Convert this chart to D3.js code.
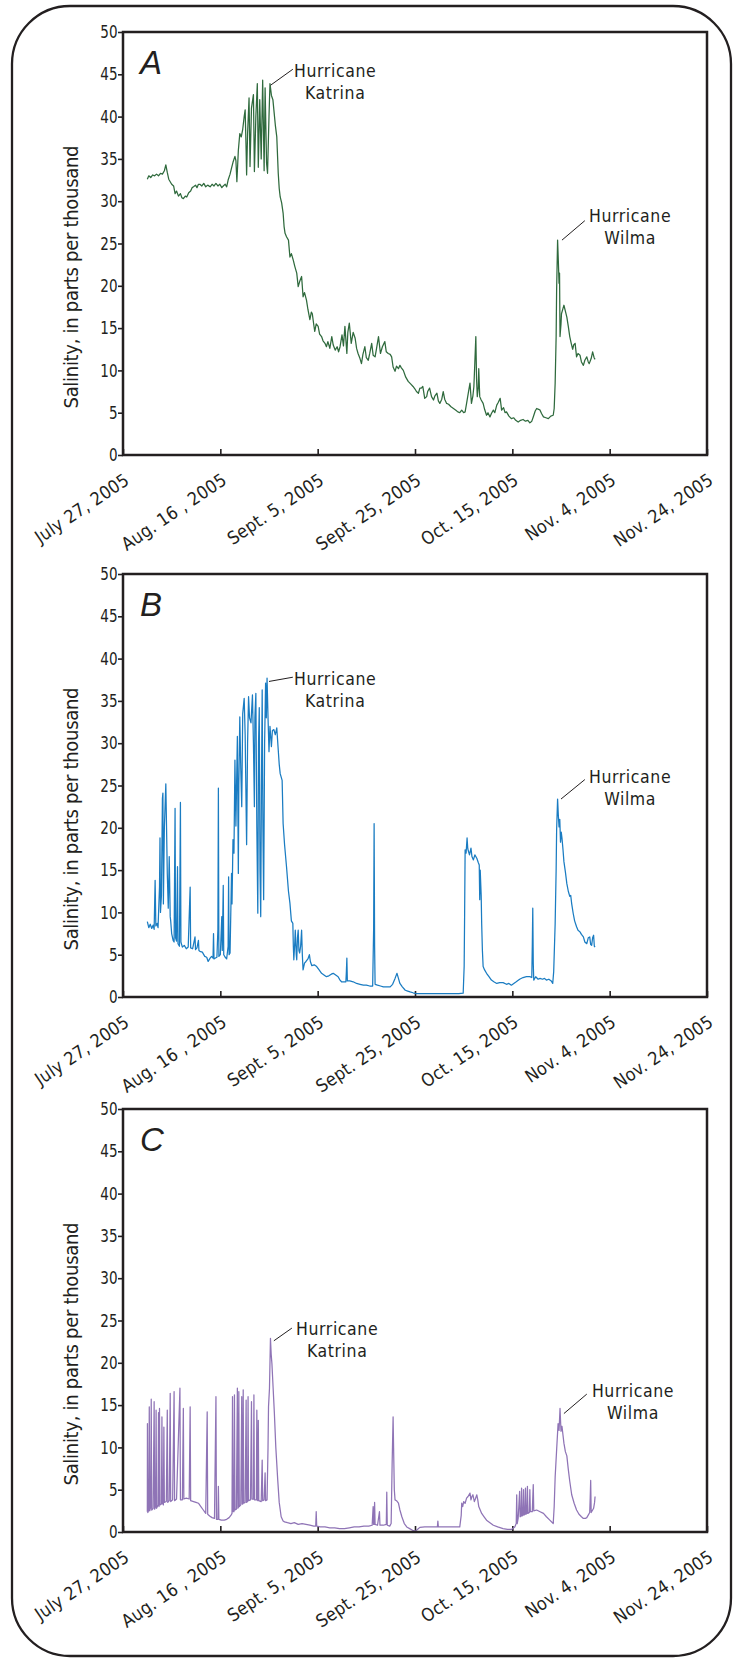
<!DOCTYPE html>
<html>
<head>
<meta charset="utf-8">
<script src="https://cdn.jsdelivr.net/npm/d3@7"></script>
<style>
  html, body { margin: 0; padding: 0; background: #ffffff; }
  svg { display: block; }
  .narrow { font-family: 'Liberation Sans Narrow', 'DejaVu Sans Condensed', 'Arial Narrow', sans-serif; }
</style>
</head>
<body>
<svg id="chart" width="736" height="1659"></svg>
<script>
// ---------------- DATA ----------------
// day offsets from July 27, 2005 and salinity (ppt)
const startDate = "2005-07-27";
const tickDates = ["2005-07-27","2005-08-16","2005-09-05","2005-09-25","2005-10-15","2005-11-04","2005-11-24"];
const tickLabels = ["July 27, 2005","Aug. 16 , 2005","Sept. 5, 2005","Sept. 25, 2005","Oct. 15, 2005","Nov. 4, 2005","Nov. 24, 2005"];
const yTicks = [0,5,10,15,20,25,30,35,40,45,50];
const panelLetters = ["A","B","C"];
const yTitle = "Salinity, in parts per thousand";

const seriesA = [[5.0,32.6],[5.3,33.0],[5.7,32.8],[6.1,33.1],[6.5,33.0],[6.9,33.2],[7.3,33.0],[7.7,33.3],[8.1,33.2],[8.5,33.6],[8.8,34.3],[9.1,33.4],[9.4,32.6],[9.7,32.3],[10.0,32.0],[10.4,31.8],[10.7,30.9],[11.0,31.2],[11.4,30.6],[11.8,30.9],[12.1,30.4],[12.4,30.3],[12.8,30.6],[13.1,30.5],[13.5,31.0],[13.9,31.2],[14.2,31.6],[14.5,31.7],[14.9,31.9],[15.2,31.6],[15.5,32.0],[15.8,32.0],[16.2,31.8],[16.6,32.1],[17.0,31.7],[17.4,31.9],[17.9,31.7],[18.3,32.0],[18.7,31.8],[19.1,32.1],[19.5,31.8],[19.9,32.0],[20.3,31.6],[20.6,31.8],[21.0,32.0],[21.3,31.7],[21.6,32.5],[22.0,33.2],[22.3,33.9],[22.6,34.6],[23.0,35.3],[23.2,34.8],[23.4,32.3],[23.7,36.0],[24.0,38.0],[24.3,37.6],[24.6,38.5],[24.9,40.0],[25.1,40.8],[25.3,36.0],[25.4,33.1],[25.6,38.0],[25.9,42.2],[26.1,34.1],[26.4,41.0],[26.8,42.6],[27.0,33.5],[27.3,40.0],[27.6,43.9],[27.8,34.0],[28.1,42.0],[28.4,35.0],[28.7,44.3],[29.0,33.6],[29.2,43.4],[29.5,34.5],[29.7,33.3],[30.0,40.0],[30.2,43.9],[30.5,42.5],[30.8,42.0],[31.0,40.8],[31.3,39.0],[31.6,37.6],[31.9,33.3],[32.1,31.5],[32.3,30.5],[32.6,29.8],[32.9,28.6],[33.1,27.0],[33.3,26.2],[33.6,25.8],[34.0,25.4],[34.3,23.4],[34.6,23.8],[35.0,23.0],[35.3,22.3],[35.7,21.5],[36.0,19.9],[36.3,20.5],[36.7,21.1],[37.0,18.7],[37.3,19.2],[37.7,18.3],[38.0,17.2],[38.4,16.0],[38.7,16.9],[38.9,16.7],[39.2,15.4],[39.4,14.6],[39.7,15.5],[40.1,15.2],[40.4,14.3],[40.8,14.0],[41.1,13.5],[41.5,13.2],[41.8,12.8],[42.1,13.4],[42.5,12.6],[42.9,14.0],[43.2,13.0],[43.6,12.4],[44.0,12.8],[44.3,12.2],[44.6,12.8],[45.0,14.2],[45.3,12.9],[45.6,15.2],[46.0,12.0],[46.2,14.5],[46.5,15.6],[46.9,13.2],[47.3,14.5],[47.7,13.8],[48.0,12.6],[48.3,12.0],[48.7,11.4],[49.0,10.8],[49.3,11.9],[49.7,12.8],[50.0,11.5],[50.4,11.2],[50.7,12.0],[51.1,13.2],[51.4,11.8],[51.8,11.6],[52.1,12.6],[52.5,14.0],[52.9,12.0],[53.3,12.8],[53.8,13.4],[54.1,12.2],[54.5,12.0],[54.9,11.9],[55.2,11.6],[55.5,10.4],[55.9,9.9],[56.2,10.5],[56.6,10.2],[56.9,10.6],[57.2,10.3],[57.6,10.0],[58.1,9.2],[58.6,8.7],[59.1,8.4],[59.6,8.1],[60.0,7.8],[60.3,7.5],[60.7,7.3],[61.0,7.9],[61.3,7.9],[61.6,8.1],[62.0,6.7],[62.4,6.9],[62.6,7.5],[63.0,7.9],[63.4,6.9],[63.8,6.5],[64.1,7.0],[64.5,7.3],[64.8,6.4],[65.1,6.1],[65.5,6.6],[65.8,7.5],[66.1,6.6],[66.5,6.1],[66.9,6.0],[67.4,5.7],[67.9,5.5],[68.4,5.3],[68.8,5.1],[69.2,5.0],[69.6,5.3],[70.0,5.0],[70.3,5.1],[70.6,6.1],[71.0,7.5],[71.3,8.5],[71.6,6.1],[71.9,7.0],[72.1,8.1],[72.3,11.0],[72.5,14.0],[72.65,9.0],[72.8,6.9],[73.0,8.0],[73.1,10.2],[73.3,6.9],[73.6,6.5],[74.0,6.1],[74.3,5.4],[74.7,4.7],[75.0,5.0],[75.4,4.5],[75.7,4.9],[76.1,5.3],[76.4,5.0],[76.8,5.9],[77.1,6.2],[77.5,6.7],[77.8,5.3],[78.2,5.6],[78.5,5.0],[78.8,5.1],[79.3,4.6],[79.8,4.3],[80.3,4.4],[80.7,4.1],[81.2,3.9],[81.7,4.1],[82.2,4.2],[82.7,4.0],[83.2,4.1],[83.6,3.8],[84.0,4.0],[84.3,4.5],[84.7,5.2],[85.0,5.5],[85.4,5.4],[85.7,5.3],[86.0,4.9],[86.4,4.5],[86.9,4.4],[87.4,4.3],[87.9,4.6],[88.4,4.7],[88.6,5.5],[88.8,8.5],[89.0,14.0],[89.1,19.5],[89.3,25.4],[89.45,23.0],[89.6,20.3],[89.7,21.5],[89.8,14.0],[90.0,15.5],[90.1,16.7],[90.4,17.3],[90.6,17.7],[90.9,17.0],[91.2,16.3],[91.5,15.2],[91.8,14.0],[92.1,13.2],[92.4,12.5],[92.6,13.0],[92.9,13.2],[93.2,11.6],[93.5,12.0],[93.9,11.8],[94.2,11.0],[94.6,10.6],[94.9,11.2],[95.3,11.6],[95.6,11.0],[95.8,10.8],[96.2,11.4],[96.5,12.2],[96.8,11.5],[97.0,11.3]];

const seriesB = [[5.0,8.9],[5.3,8.2],[5.6,8.6],[5.9,8.1],[6.2,8.5],[6.4,8.0],[6.6,13.8],[6.75,8.4],[7.0,8.7],[7.2,8.2],[7.5,13.0],[7.6,18.8],[7.7,10.0],[7.9,12.0],[8.1,23.5],[8.2,24.1],[8.3,11.0],[8.5,20.0],[8.8,25.2],[8.9,21.7],[9.1,14.6],[9.3,10.5],[9.5,16.6],[9.7,9.5],[9.8,9.0],[10.0,7.5],[10.3,6.7],[10.5,6.5],[10.7,22.3],[10.8,7.0],[11.0,6.6],[11.2,15.4],[11.3,6.3],[11.6,6.0],[11.8,23.0],[11.9,6.5],[12.2,5.9],[12.6,6.1],[13.0,5.7],[13.4,5.9],[13.8,13.0],[13.9,5.8],[14.3,5.7],[14.8,7.1],[14.9,5.6],[15.2,5.8],[15.5,6.7],[15.6,5.5],[15.8,5.4],[16.3,5.3],[16.8,4.8],[17.2,4.7],[17.5,4.2],[17.9,4.6],[18.2,4.8],[18.5,4.6],[18.6,7.5],[18.7,4.5],[19.0,4.6],[19.3,4.7],[19.5,8.0],[19.6,24.7],[19.7,4.8],[20.0,5.0],[20.3,9.5],[20.4,5.5],[20.6,13.2],[20.7,5.0],[21.0,4.7],[21.3,4.5],[21.6,6.0],[21.7,14.2],[21.8,5.0],[22.0,5.2],[22.3,14.6],[22.4,11.0],[22.6,18.6],[22.8,17.0],[23.0,28.0],[23.2,20.2],[23.5,30.8],[23.7,14.6],[23.8,25.0],[24.0,33.1],[24.2,27.0],[24.4,22.5],[24.6,33.5],[24.9,35.3],[25.1,31.0],[25.4,18.0],[25.6,30.0],[25.8,35.5],[26.0,33.0],[26.3,32.4],[26.6,35.7],[26.8,30.0],[27.0,22.5],[27.1,33.0],[27.3,35.9],[27.5,20.0],[27.7,9.9],[27.85,30.0],[28.0,34.2],[28.15,15.0],[28.3,9.5],[28.45,25.0],[28.6,36.3],[28.75,20.0],[28.9,11.5],[29.1,30.0],[29.3,37.1],[29.45,33.0],[29.6,37.7],[29.8,33.0],[30.0,29.0],[30.2,32.0],[30.5,29.6],[30.7,31.5],[31.0,31.6],[31.3,31.0],[31.6,31.8],[31.9,29.2],[32.1,27.5],[32.3,26.4],[32.7,25.6],[32.9,20.5],[33.2,18.0],[33.6,15.4],[34.0,12.5],[34.3,11.1],[34.6,9.0],[34.9,8.7],[35.0,6.0],[35.1,4.4],[35.3,6.5],[35.4,7.9],[35.6,5.0],[35.7,4.4],[35.85,7.0],[36.0,7.9],[36.15,5.5],[36.3,5.2],[36.5,6.0],[36.7,7.9],[36.85,5.0],[37.0,3.2],[37.3,4.0],[37.6,4.2],[38.0,4.5],[38.3,5.0],[38.5,4.2],[38.8,3.7],[39.3,3.8],[39.8,3.6],[40.3,3.2],[40.8,2.8],[41.3,2.6],[41.8,2.4],[42.3,2.5],[42.8,2.7],[43.2,2.8],[43.7,2.6],[44.2,2.4],[44.6,2.0],[44.9,1.8],[45.4,1.8],[45.8,1.8],[45.9,3.0],[46.0,4.6],[46.1,1.9],[46.6,1.9],[47.3,1.8],[48.0,1.6],[48.7,1.5],[49.4,1.4],[50.0,1.4],[50.7,1.3],[51.3,1.3],[51.5,8.0],[51.6,20.5],[51.7,6.0],[51.8,1.5],[52.3,1.4],[52.9,1.3],[53.5,1.2],[54.2,1.2],[54.9,1.2],[55.4,1.5],[55.9,2.2],[56.3,2.8],[56.6,2.2],[56.9,1.6],[57.4,1.2],[58.0,0.8],[58.5,0.7],[59.0,0.6],[59.6,0.5],[60.3,0.4],[61.0,0.4],[63.0,0.4],[65.0,0.4],[67.0,0.4],[69.0,0.4],[69.9,0.45],[70.0,2.0],[70.1,3.6],[70.2,10.0],[70.3,17.4],[70.5,17.0],[70.7,18.8],[70.85,17.5],[71.0,17.2],[71.2,16.8],[71.5,17.6],[71.7,16.6],[72.0,16.2],[72.3,16.8],[72.7,16.4],[73.0,15.9],[73.2,15.6],[73.3,11.5],[73.4,15.0],[73.6,12.0],[73.7,8.7],[73.85,5.5],[74.0,3.6],[74.3,3.2],[74.7,2.8],[75.2,2.4],[75.7,2.0],[76.2,1.8],[76.8,1.6],[77.4,1.7],[78.1,1.7],[78.8,1.5],[79.3,1.6],[79.8,1.4],[80.3,1.6],[80.8,1.8],[81.5,2.1],[82.2,2.3],[82.9,2.4],[83.6,2.4],[84.0,2.3],[84.1,6.0],[84.2,10.5],[84.3,4.0],[84.4,2.0],[84.8,2.4],[85.3,2.1],[85.7,2.2],[86.2,2.1],[86.6,2.2],[87.0,2.0],[87.5,2.1],[88.0,1.9],[88.3,1.6],[88.5,3.0],[88.8,8.7],[89.0,15.0],[89.1,19.7],[89.3,23.4],[89.45,21.5],[89.6,20.1],[89.75,21.0],[89.9,18.3],[90.05,19.5],[90.2,18.8],[90.4,17.5],[90.6,16.0],[90.9,14.8],[91.2,13.4],[91.5,12.5],[91.8,11.9],[92.0,12.0],[92.2,11.0],[92.5,9.9],[92.8,9.0],[93.2,8.3],[93.5,7.9],[93.9,7.7],[94.2,7.4],[94.6,7.1],[94.9,6.5],[95.3,6.3],[95.6,7.0],[95.9,7.1],[96.1,6.2],[96.3,6.1],[96.5,7.0],[96.7,7.3],[96.85,6.0],[97.0,5.9]];

const seriesC = [[5.0,2.4],[5.02,12.8],[5.1,2.3],[5.3,2.6],[5.4,14.8],[5.5,2.5],[5.7,3.0],[5.8,15.7],[5.9,2.6],[6.2,2.8],[6.4,15.4],[6.5,2.7],[6.7,3.0],[6.8,14.4],[6.9,2.8],[7.2,3.2],[7.3,14.1],[7.4,3.0],[7.5,14.6],[7.6,3.2],[7.9,3.3],[8.0,13.6],[8.1,3.4],[8.3,3.2],[8.4,12.4],[8.5,3.5],[8.9,3.6],[9.1,14.4],[9.2,3.5],[9.5,3.7],[9.7,16.4],[9.8,3.6],[10.2,3.8],[10.5,16.6],[10.6,3.7],[11.0,3.9],[11.7,17.0],[11.8,3.8],[12.2,3.8],[12.4,14.6],[12.5,3.9],[13.0,4.0],[13.6,3.9],[13.8,14.8],[13.9,3.7],[14.5,3.6],[15.0,3.5],[15.5,3.4],[16.0,3.0],[16.5,2.6],[17.0,2.2],[17.3,14.2],[17.4,2.1],[17.8,1.9],[18.3,1.7],[18.8,1.6],[19.1,16.0],[19.2,1.5],[19.5,1.5],[19.6,5.4],[19.7,1.5],[20.2,1.4],[20.8,1.4],[21.3,1.5],[21.8,1.7],[22.2,2.0],[22.4,2.2],[22.5,16.0],[22.6,2.4],[22.8,2.4],[22.9,16.2],[23.0,2.6],[23.3,2.7],[23.5,17.0],[23.6,2.8],[23.7,2.9],[23.8,16.6],[23.9,3.0],[24.2,3.2],[24.4,16.0],[24.5,3.3],[24.6,3.3],[24.7,16.8],[24.8,3.4],[25.1,3.5],[25.3,15.6],[25.4,3.5],[25.6,3.6],[25.7,16.0],[25.8,3.7],[26.2,3.8],[26.4,15.4],[26.5,3.9],[26.8,3.9],[26.9,16.2],[27.0,3.8],[27.4,3.8],[27.5,14.4],[27.6,3.8],[27.7,3.7],[27.8,13.2],[27.9,3.7],[28.4,3.6],[28.6,8.5],[28.7,3.7],[29.0,3.8],[29.2,7.0],[29.3,3.7],[29.6,3.8],[29.8,10.0],[29.9,14.8],[30.1,17.0],[30.3,22.9],[30.45,21.0],[30.6,19.9],[30.85,17.0],[31.1,14.1],[31.4,10.0],[31.8,6.1],[32.1,3.5],[32.5,1.8],[32.9,1.3],[33.2,1.2],[33.8,1.1],[34.5,1.0],[35.2,1.1],[36.0,0.9],[36.8,1.0],[37.6,0.9],[38.4,0.8],[39.2,0.7],[39.6,0.7],[39.7,2.4],[39.8,0.7],[40.5,0.6],[41.5,0.6],[42.5,0.5],[43.5,0.5],[44.5,0.4],[45.5,0.4],[46.5,0.5],[47.5,0.6],[48.5,0.6],[49.5,0.7],[50.5,0.7],[51.2,0.8],[51.4,3.0],[51.5,0.9],[51.6,0.9],[51.7,3.5],[51.8,0.9],[52.3,0.8],[52.7,2.4],[52.8,0.8],[53.5,0.8],[54.1,0.9],[54.2,4.7],[54.3,0.8],[54.8,0.7],[55.1,1.0],[55.3,8.0],[55.5,13.6],[55.6,10.0],[55.75,5.0],[55.9,3.8],[56.2,3.7],[56.6,3.4],[56.9,2.6],[57.3,1.8],[57.8,1.0],[58.3,0.6],[58.9,0.4],[59.5,0.2],[60.0,0.1],[60.5,0.3],[61.0,0.55],[62.0,0.6],[63.0,0.6],[64.0,0.6],[64.6,0.6],[64.7,1.3],[64.8,0.6],[65.5,0.6],[66.5,0.6],[67.5,0.6],[68.5,0.6],[69.2,0.6],[69.5,2.0],[69.6,3.4],[69.8,3.0],[70.0,3.6],[70.3,3.4],[70.6,4.0],[70.9,4.2],[71.3,4.6],[71.5,3.8],[71.7,4.2],[71.9,4.4],[72.2,3.6],[72.4,3.9],[72.7,4.4],[72.9,3.8],[73.1,3.0],[73.4,2.6],[73.7,2.2],[74.2,1.8],[74.7,1.4],[75.4,1.1],[76.1,0.8],[77.0,0.6],[78.1,0.4],[79.0,0.3],[79.8,0.3],[80.5,0.6],[80.8,1.0],[80.9,4.4],[81.0,1.0],[81.2,1.6],[81.5,4.8],[81.6,1.8],[81.8,1.9],[81.9,5.2],[82.0,1.9],[82.2,2.0],[82.3,5.0],[82.4,2.0],[82.6,2.1],[82.7,5.2],[82.8,2.1],[83.0,2.2],[83.1,5.4],[83.2,2.2],[83.5,2.3],[83.6,5.0],[83.7,2.4],[84.1,2.4],[84.3,5.6],[84.4,2.5],[85.0,2.6],[85.7,2.4],[86.4,2.2],[87.0,1.8],[87.7,1.4],[88.4,1.0],[88.6,3.0],[88.8,6.5],[89.1,9.7],[89.4,12.8],[89.6,12.0],[89.8,14.6],[90.0,11.9],[90.2,12.5],[90.4,11.5],[90.6,10.5],[90.9,9.5],[91.2,9.0],[91.5,7.4],[91.8,6.0],[92.2,4.4],[92.7,3.4],[93.2,2.6],[93.7,2.1],[94.2,1.8],[94.6,1.6],[95.0,1.6],[95.3,1.7],[95.6,2.0],[95.9,2.3],[96.0,4.0],[96.1,6.1],[96.2,2.3],[96.5,2.6],[96.7,2.8],[96.9,3.5],[97.0,4.2]];

const seriesList = [seriesA, seriesB, seriesC];
const seriesColors = ["#2f6a3d", "#1a7cc2", "#8f74b6"];

// annotation labels: [label day, label value (baseline of first line), leader start day, value, leader end day, value]
const annoText = [["Hurricane","Katrina"],["Hurricane","Wilma"]];
const annotations = [
  [[43.6,44.7,34.9,45.6,30.3,43.7],[104.2,27.5,94.9,27.7,90.2,25.4]],
  [[43.6,36.9,34.9,37.8,30.0,37.3],[104.2,25.3,94.9,25.7,90.0,23.4]],
  [[44.0,23.3,34.7,24.1,31.0,22.6],[104.8,16.0,95.3,16.3,90.6,14.0]]
];

// ---------------- LAYOUT ----------------
const ink = "#231f20";
const plotLeft = 123, plotWidth = 584, plotHeight = 423;
const panelTops = [32, 574, 1109];

const svg = d3.select("#chart");

svg.append("rect")
  .attr("x", 12).attr("y", 6).attr("width", 719).attr("height", 1650)
  .attr("rx", 58).attr("ry", 58)
  .attr("fill", "none").attr("stroke", ink).attr("stroke-width", 2.3);

const parse = d3.utcParse("%Y-%m-%d");
const t0 = parse(startDate);
const toDate = d => new Date(t0.getTime() + d * 864e5);

const x = d3.scaleUtc()
  .domain([parse(tickDates[0]), parse(tickDates[tickDates.length - 1])])
  .range([plotLeft, plotLeft + plotWidth]);

panelTops.forEach((top, i) => {
  const y = d3.scaleLinear().domain([0, 50]).range([top + plotHeight, top]);
  const g = svg.append("g");

  // y axis (outward ticks)
  const yAxis = d3.axisLeft(y).tickValues(yTicks).tickSize(5).tickPadding(1).tickFormat(d3.format("d"));
  const gy = g.append("g").attr("transform", `translate(${plotLeft},0)`).call(yAxis);
  gy.select(".domain").remove();
  gy.selectAll("line").attr("stroke", ink).attr("stroke-width", 1.6);
  gy.selectAll("text").attr("class", "narrow").attr("font-size", 17.5).attr("fill", ink)
    .attr("font-family", null).attr("x", 0)
    .attr("transform", "translate(-5.5,0) scale(0.86,1)");

  // x axis (inward ticks)
  const xAxis = d3.axisBottom(x).tickValues(tickDates.map(parse)).tickSize(-6)
    .tickFormat((d, k) => tickLabels[k]);
  const gx = g.append("g").attr("transform", `translate(0,${top + plotHeight})`).call(xAxis);
  gx.select(".domain").remove();
  gx.selectAll("line").attr("stroke", ink).attr("stroke-width", 1.6);
  gx.selectAll("text").attr("class", "narrow").attr("font-size", 18).attr("fill", ink)
    .attr("font-family", null).attr("letter-spacing", 0.2)
    .attr("y", null).attr("dy", null)
    .attr("text-anchor", "end")
    .attr("transform", "translate(7,28) rotate(-34)");

  // data line
  const line = d3.line().x(d => x(toDate(d[0]))).y(d => y(d[1]));
  g.append("path").datum(seriesList[i])
    .attr("d", line).attr("fill", "none")
    .attr("stroke", seriesColors[i]).attr("stroke-width", 1.25)
    .attr("stroke-linejoin", "round");

  // frame
  g.append("rect").attr("x", plotLeft).attr("y", top).attr("width", plotWidth).attr("height", plotHeight)
    .attr("fill", "none").attr("stroke", ink).attr("stroke-width", 2.5);

  // panel letter
  g.append("text").attr("x", plotLeft + 17).attr("y", top + 42)
    .attr("font-family", "'Liberation Sans', Arial, sans-serif").attr("font-style", "italic")
    .attr("font-size", 33).attr("fill", ink).text(panelLetters[i]);

  // y title
  g.append("text").attr("class", "narrow")
    .attr("transform", `translate(78,${top + 245}) rotate(-90)`)
    .attr("text-anchor", "middle").attr("font-size", 20).attr("fill", ink)
    .attr("textLength", 263).attr("lengthAdjust", "spacing")
    .text(yTitle);

  // annotations
  annotations[i].forEach((a, k) => {
    g.append("line")
      .attr("x1", x(toDate(a[2]))).attr("y1", y(a[3]))
      .attr("x2", x(toDate(a[4]))).attr("y2", y(a[5]))
      .attr("stroke", ink).attr("stroke-width", 1);
    const tx = g.append("text").attr("class", "narrow")
      .attr("text-anchor", "middle").attr("font-size", 17.5).attr("fill", ink)
      .attr("letter-spacing", 0.6);
    annoText[k].forEach((s, j) => {
      tx.append("tspan").attr("x", x(toDate(a[0]))).attr("y", y(a[1]) + j * 22).text(s);
    });
  });
});
</script>
</body>
</html>
